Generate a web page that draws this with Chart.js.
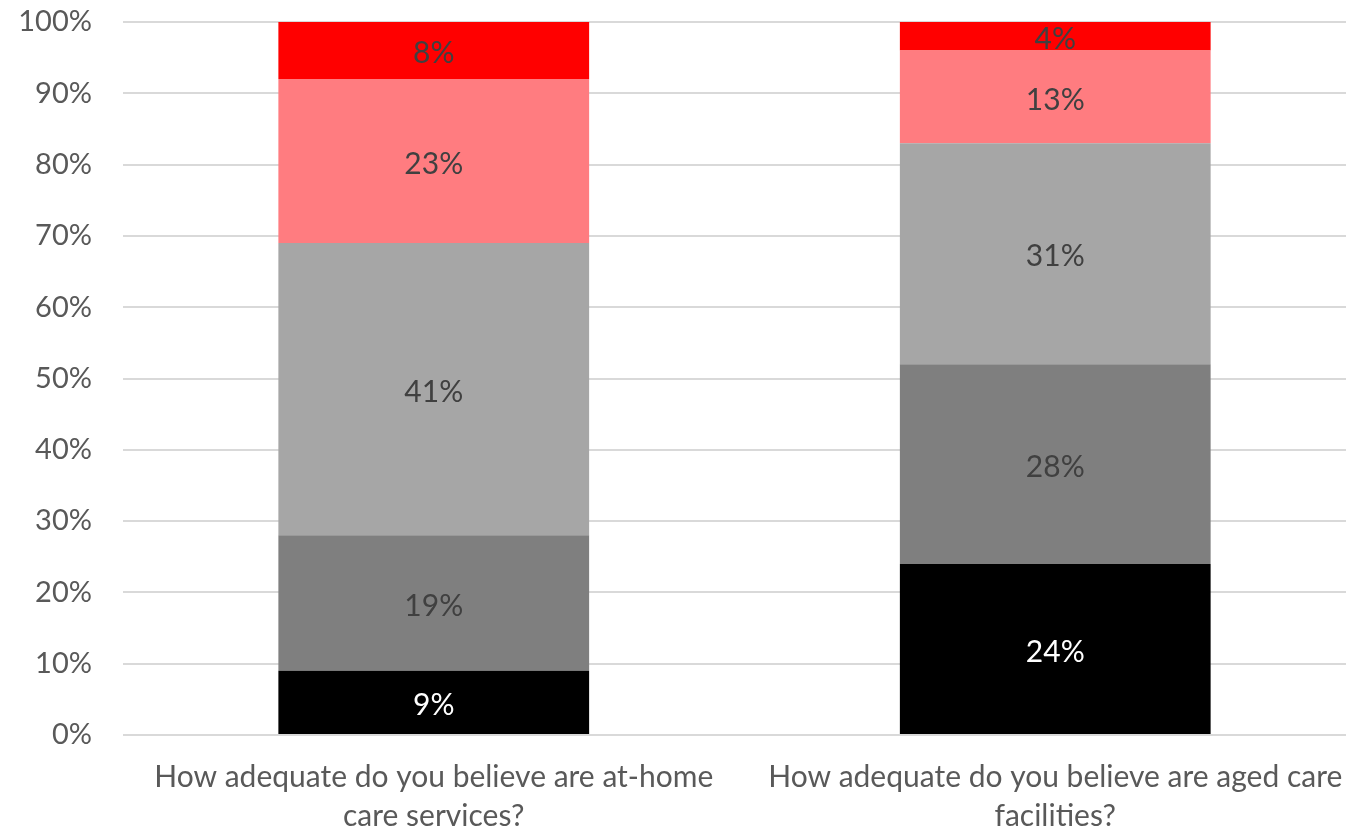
<!DOCTYPE html>
<html>
<head>
<meta charset="utf-8">
<script src="https://cdn.jsdelivr.net/npm/chart.js@4.4.1/dist/chart.umd.min.js"></script>
<style>
  html, body { margin: 0; padding: 0; background: #fff; overflow: hidden; }
</style>
</head>
<body>
<canvas id="careChart" width="1368" height="832"></canvas>
<script>
// survey answers, stacked bottom to top (percent of respondents)
const questions = [
  ['How adequate do you believe are at-home', 'care services?'],
  ['How adequate do you believe are aged care', 'facilities?']
];
const level1 = [9, 24];
const level2 = [19, 28];
const level3 = [41, 31];
const level4 = [23, 13];
const level5 = [8, 4];
const yTicks = [0, 10, 20, 30, 40, 50, 60, 70, 80, 90, 100];

const FONT = 'Lato, "Open Sans", sans-serif';

// writes the percentage in the middle of each segment
const segmentLabels = {
  id: 'segmentLabels',
  afterDatasetsDraw(chart) {
    const ctx = chart.ctx;
    ctx.save();
    ctx.font = '30px ' + FONT;
    ctx.textAlign = 'center';
    ctx.textBaseline = 'middle';
    chart.data.datasets.forEach((ds, i) => {
      chart.getDatasetMeta(i).data.forEach((bar, j) => {
        const p = bar.getProps(['x', 'y', 'base'], true);
        ctx.fillStyle = ds.labelColor;
        ctx.fillText(ds.data[j] + '%', p.x, (p.y + p.base) / 2 + 3);
      });
    });
    ctx.restore();
  }
};

const ctx = document.getElementById('careChart').getContext('2d');

new Chart(ctx, {
  type: 'bar',
  data: {
    labels: questions,
    datasets: [
      { data: level1, backgroundColor: '#000000', labelColor: '#ffffff' },
      { data: level2, backgroundColor: '#7f7f7f', labelColor: '#404040' },
      { data: level3, backgroundColor: '#a6a6a6', labelColor: '#404040' },
      { data: level4, backgroundColor: '#ff7c80', labelColor: '#404040' },
      { data: level5, backgroundColor: '#ff0000', labelColor: '#404040' }
    ]
  },
  options: {
    responsive: false,
    animation: false,
    layout: { padding: { top: 22, left: 0, right: 2, bottom: 0 } },
    datasets: {
      bar: { categoryPercentage: 1, barPercentage: 0.5, borderWidth: 0 }
    },
    plugins: {
      legend: { display: false },
      tooltip: { enabled: false }
    },
    scales: {
      x: {
        stacked: true,
        grid: { display: false, drawTicks: false },
        border: { display: false },
        afterFit(scale) { scale.height = 97; },
        ticks: {
          color: '#595959',
          font: { family: FONT, size: 30, lineHeight: 1.3 },
          padding: 23,
          maxRotation: 0,
          autoSkip: false
        }
      },
      y: {
        stacked: true,
        min: 0,
        max: 100,
        afterFit(scale) {
          scale.width = 123;
          scale.paddingTop = 0;
          scale.paddingBottom = 0;
        },
        afterBuildTicks(scale) { scale.ticks = yTicks.map(v => ({ value: v })); },
        grid: { color: '#d9d9d9', lineWidth: 2, drawTicks: false },
        border: { display: false },
        ticks: {
          color: '#595959',
          font: { family: FONT, size: 29 },
          padding: 31,
          callback: v => v + '%'
        }
      }
    }
  },
  plugins: [segmentLabels]
});
</script>
</body>
</html>
